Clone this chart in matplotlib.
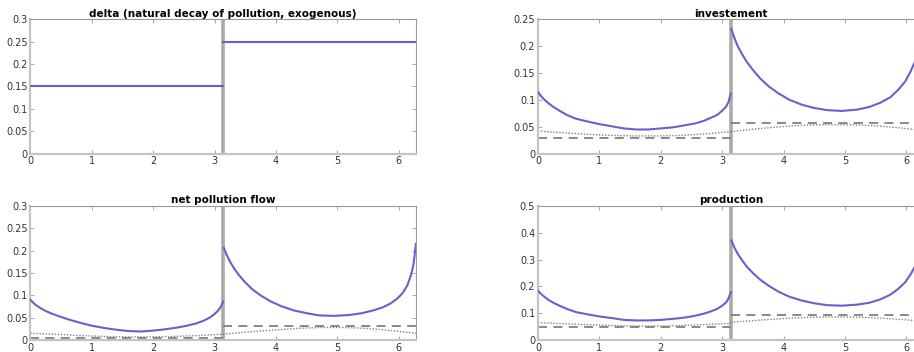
import numpy as np
import matplotlib
matplotlib.use('Agg')
import matplotlib.pyplot as plt
from matplotlib.ticker import FuncFormatter

# x grids (two regimes, switch at pi)
x_left = [0, 0.05, 0.1, 0.17, 0.25, 0.35, 0.47, 0.62, 0.8, 1.0, 1.2, 1.4, 1.6, 1.8, 2.0, 2.2,
          2.4, 2.55, 2.7, 2.82, 2.92, 3.0, 3.06, 3.1, 3.14]
x_right = [3.15, 3.2, 3.25, 3.32, 3.4, 3.5, 3.62, 3.76, 3.92, 4.1, 4.3, 4.5, 4.71, 4.95, 5.2,
           5.4, 5.58, 5.74, 5.87, 5.98, 6.07, 6.14, 6.2, 6.24, 6.26, 6.28]
xd_left = [0, 0.4, 0.8, 1.2, 1.57, 1.95, 2.35, 2.75, 3.14]
xd_right = [3.14, 3.54, 3.94, 4.34, 4.71, 5.09, 5.49, 5.89, 6.28]
x_switch = 3.1416
x_max = 6.2832

# delta
delta_left = 0.15
delta_right = 0.25

# investement
inv_left = [0.115, 0.107, 0.101, 0.094, 0.087, 0.080, 0.072, 0.065, 0.060, 0.055, 0.051, 0.047,
            0.045, 0.045, 0.047, 0.049, 0.053, 0.056, 0.061, 0.067, 0.072, 0.080, 0.087, 0.095, 0.112]
inv_right = [0.232, 0.215, 0.201, 0.186, 0.171, 0.156, 0.140, 0.125, 0.112, 0.100, 0.091, 0.085,
             0.081, 0.0795, 0.082, 0.087, 0.095, 0.105, 0.119, 0.134, 0.153, 0.171, 0.189, 0.205,
             0.214, 0.224]
inv_dot_left = [0.042, 0.039, 0.036, 0.034, 0.033, 0.033, 0.034, 0.037, 0.041]
inv_dot_right = [0.041, 0.046, 0.050, 0.053, 0.054, 0.054, 0.052, 0.048, 0.043]
inv_ss = [0.030, 0.058]

# net pollution flow
net_left = [0.090, 0.083, 0.077, 0.071, 0.065, 0.059, 0.053, 0.046, 0.039, 0.032, 0.027, 0.023,
            0.020, 0.019, 0.021, 0.024, 0.028, 0.032, 0.037, 0.043, 0.050, 0.058, 0.066, 0.074, 0.086]
net_right = [0.207, 0.190, 0.176, 0.160, 0.145, 0.129, 0.113, 0.099, 0.086, 0.075, 0.066, 0.060,
             0.055, 0.054, 0.056, 0.060, 0.066, 0.073, 0.082, 0.093, 0.106, 0.122, 0.145, 0.168,
             0.190, 0.215]
net_dot_left = [0.015, 0.013, 0.010, 0.008, 0.007, 0.007, 0.008, 0.010, 0.013]
net_dot_right = [0.013, 0.018, 0.022, 0.026, 0.028, 0.028, 0.026, 0.021, 0.015]
net_ss = [0.004, 0.031]

# production
prod_left = [0.184, 0.172, 0.162, 0.150, 0.139, 0.128, 0.116, 0.104, 0.096, 0.088, 0.082, 0.075,
             0.073, 0.073, 0.075, 0.079, 0.084, 0.090, 0.098, 0.107, 0.116, 0.128, 0.139, 0.153, 0.178]
prod_right = [0.372, 0.345, 0.323, 0.299, 0.274, 0.250, 0.225, 0.202, 0.180, 0.161, 0.147, 0.137,
              0.130, 0.128, 0.132, 0.139, 0.152, 0.169, 0.191, 0.215, 0.245, 0.274, 0.303, 0.328,
              0.343, 0.360]
prod_dot_left = [0.065, 0.061, 0.057, 0.054, 0.052, 0.052, 0.054, 0.058, 0.062]
prod_dot_right = [0.066, 0.073, 0.079, 0.084, 0.086, 0.086, 0.083, 0.077, 0.070]
prod_ss = [0.047, 0.092]

blue = '#6464c8'
grey = '#808080'

fig = plt.figure(figsize=(9.14, 3.52), dpi=100)
W = 0.422
pos = {
    'tl': [0.0332, 0.5634, W, 0.3818],
    'tr': [0.5886, 0.5634, W, 0.3818],
    'bl': [0.0332, 0.0341, W, 0.3807],
    'br': [0.5886, 0.0341, W, 0.3807],
}


def setup(ax, title, ymax, ystep):
    ax.set_xlim(0, x_max)
    ax.set_ylim(0, ymax)
    ax.set_xticks(range(0, 7))
    ax.set_yticks(np.arange(0, ymax + ystep / 2, ystep))
    ax.yaxis.set_major_formatter(FuncFormatter(lambda v, p: '%g' % round(v, 3)))
    ax.tick_params(direction='in', length=3, width=0.6, colors='#999999',
                   labelcolor='#333333', labelsize=7, top=True, right=True, pad=2)
    for s in ['top', 'right']:
        ax.spines[s].set_color('#999999')
        ax.spines[s].set_linewidth(0.8)
    for s in ['left', 'bottom']:
        ax.spines[s].set_color('#c4c4c4')
        ax.spines[s].set_linewidth(1.6)
    ax.set_title(title, fontsize=7.5, fontweight='bold', pad=2)
    ax.axvline(x_switch, color='#aaaaaa', lw=2.6, zorder=1)


def draw(ax, left, right, dl, dr, ss):
    ax.plot(x_left, left, color=blue, lw=1.5, zorder=3)
    ax.plot(x_right, right, color=blue, lw=1.5, zorder=3)
    ax.plot(xd_left, dl, color=grey, lw=1.0, ls=(0, (1, 1.2)), zorder=2)
    ax.plot(xd_right, dr, color=grey, lw=1.0, ls=(0, (1, 1.2)), zorder=2)
    ax.plot([0, x_switch], [ss[0], ss[0]], color=grey, lw=1.3, ls=(0, (5, 3.5)), zorder=2)
    ax.plot([x_switch, x_max], [ss[1], ss[1]], color=grey, lw=1.3, ls=(0, (5, 3.5)), zorder=2)


ax = fig.add_axes(pos['tl'])
setup(ax, 'delta (natural decay of pollution, exogenous)', 0.3, 0.05)
ax.plot([0, x_switch], [delta_left, delta_left], color=blue, lw=1.5, zorder=3)
ax.plot([x_switch, x_max], [delta_right, delta_right], color=blue, lw=1.5, zorder=3)

ax = fig.add_axes(pos['tr'])
setup(ax, 'investement', 0.25, 0.05)
draw(ax, inv_left, inv_right, inv_dot_left, inv_dot_right, inv_ss)

ax = fig.add_axes(pos['bl'])
setup(ax, 'net pollution flow', 0.3, 0.05)
draw(ax, net_left, net_right, net_dot_left, net_dot_right, net_ss)

ax = fig.add_axes(pos['br'])
setup(ax, 'production', 0.5, 0.1)
draw(ax, prod_left, prod_right, prod_dot_left, prod_dot_right, prod_ss)

fig.savefig('out.png', dpi=100)
